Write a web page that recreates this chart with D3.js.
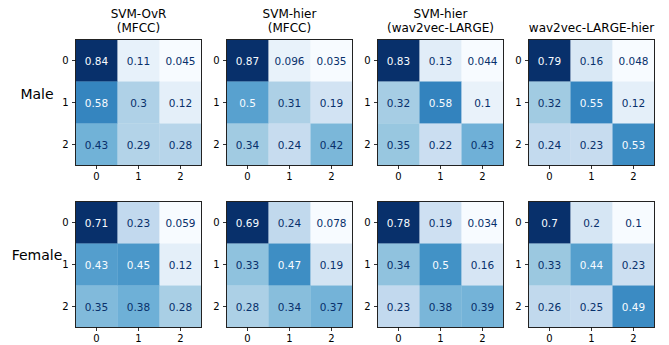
<!DOCTYPE html>
<html>
<head>
<meta charset="utf-8">
<script src="https://cdn.jsdelivr.net/npm/d3@7"></script>
<style>
  body { margin: 0; background: #fff; }
  svg { display: block; font-family: "DejaVu Sans", sans-serif; }
</style>
</head>
<body>
<svg id="mainsvg" width="669" height="345"></svg>
<script>
// titles of the four columns (two lines each)
const titles = [
  ['SVM-OvR', '(MFCC)'],
  ['SVM-hier', '(MFCC)'],
  ['SVM-hier', '(wav2vec-LARGE)'],
  ['wav2vec-LARGE-hier']
]
const rowLabels = ['Male', 'Female']
const classes = ['0', '1', '2']

// normalized confusion matrices, row = true class
const male = [
  [[0.84, 0.11, 0.045], [0.58, 0.3, 0.12], [0.43, 0.29, 0.28]],
  [[0.87, 0.096, 0.035], [0.5, 0.31, 0.19], [0.34, 0.24, 0.42]],
  [[0.83, 0.13, 0.044], [0.32, 0.58, 0.1], [0.35, 0.22, 0.43]],
  [[0.79, 0.16, 0.048], [0.32, 0.55, 0.12], [0.24, 0.23, 0.53]]
]
const female = [
  [[0.71, 0.23, 0.059], [0.43, 0.45, 0.12], [0.35, 0.38, 0.28]],
  [[0.69, 0.24, 0.078], [0.33, 0.47, 0.19], [0.28, 0.34, 0.37]],
  [[0.78, 0.19, 0.034], [0.34, 0.5, 0.16], [0.23, 0.38, 0.39]],
  [[0.7, 0.2, 0.1], [0.33, 0.44, 0.23], [0.26, 0.25, 0.49]]
]

const svg = d3.select('#mainsvg')
const size = 126
const colX = [75.5, 226.5, 377.5, 528.5]
const rowY = [39.5, 201.5]
const labelPos = [[37, 94], [37, 255]]

// matplotlib Blues = linear ramp over the 9 brewer colours
const blues = d3.schemeBlues[9]

function drawMatrix(m, pos, showTitle, title) {
  const g = svg.append('g').attr('transform', `translate(${pos[0]},${pos[1]})`)
  const x = d3.scaleBand().domain(classes).range([0, size])
  const y = d3.scaleBand().domain(classes).range([0, size])

  const flat = m.flat()
  const lo = d3.min(flat), hi = d3.max(flat)
  const color = d3.scaleLinear()
    .domain(d3.range(9).map(i => lo + (hi - lo) * i / 8))
    .range(blues)
    .interpolate(d3.interpolateRgb)
  const thresh = (lo + hi) / 2

  const cells = []
  m.forEach((row, i) => row.forEach((v, j) => cells.push({i, j, v})))

  g.selectAll('rect.cell').data(cells).enter().append('rect')
    .attr('class', 'cell')
    .attr('x', d => x(classes[d.j]))
    .attr('y', d => y(classes[d.i]))
    .attr('width', x.bandwidth() + 0.3)
    .attr('height', y.bandwidth() + 0.3)
    .attr('fill', d => color(d.v))

  g.selectAll('text.val').data(cells).enter().append('text')
    .attr('class', 'val')
    .attr('x', d => x(classes[d.j]) + x.bandwidth() / 2)
    .attr('y', d => y(classes[d.i]) + y.bandwidth() / 2)
    .attr('text-anchor', 'middle')
    .attr('dominant-baseline', 'central')
    .attr('font-size', '10.5px')
    .attr('fill', d => d.v > thresh ? '#f7fbff' : '#08306b')
    .text(d => d.v)

  g.append('rect')
    .attr('width', size).attr('height', size)
    .attr('fill', 'none').attr('stroke', '#222').attr('stroke-width', 1)

  const ax = g.append('g').attr('transform', `translate(0,${size})`)
    .call(d3.axisBottom(x).tickSize(3.5).tickPadding(3.5))
  const ay = g.append('g')
    .call(d3.axisLeft(y).tickSize(3.5).tickPadding(3.5))
  ;[ax, ay].forEach(a => {
    a.select('.domain').remove()
    a.selectAll('text').attr('font-size', '10px').attr('fill', '#000')
      .attr('font-family', '"DejaVu Sans", sans-serif')
    a.selectAll('line').attr('stroke', '#000').attr('stroke-width', 0.8)
  })

  if (showTitle) {
    const t = g.append('text').attr('text-anchor', 'middle').attr('font-size', '12px')
    const base = title.length === 2 ? -21.5 : -7.5
    title.forEach((line, k) => {
      t.append('tspan').attr('x', size / 2).attr('y', base + k * 14).text(line)
    })
  }
}

male.forEach((m, c) => drawMatrix(m, [colX[c], rowY[0]], true, titles[c]))
female.forEach((m, c) => drawMatrix(m, [colX[c], rowY[1]], false))

rowLabels.forEach((lab, r) => {
  svg.append('text')
    .attr('x', labelPos[r][0]).attr('y', labelPos[r][1])
    .attr('text-anchor', 'middle').attr('dominant-baseline', 'central')
    .attr('font-size', '14px')
    .text(lab)
})
</script>
</body>
</html>
